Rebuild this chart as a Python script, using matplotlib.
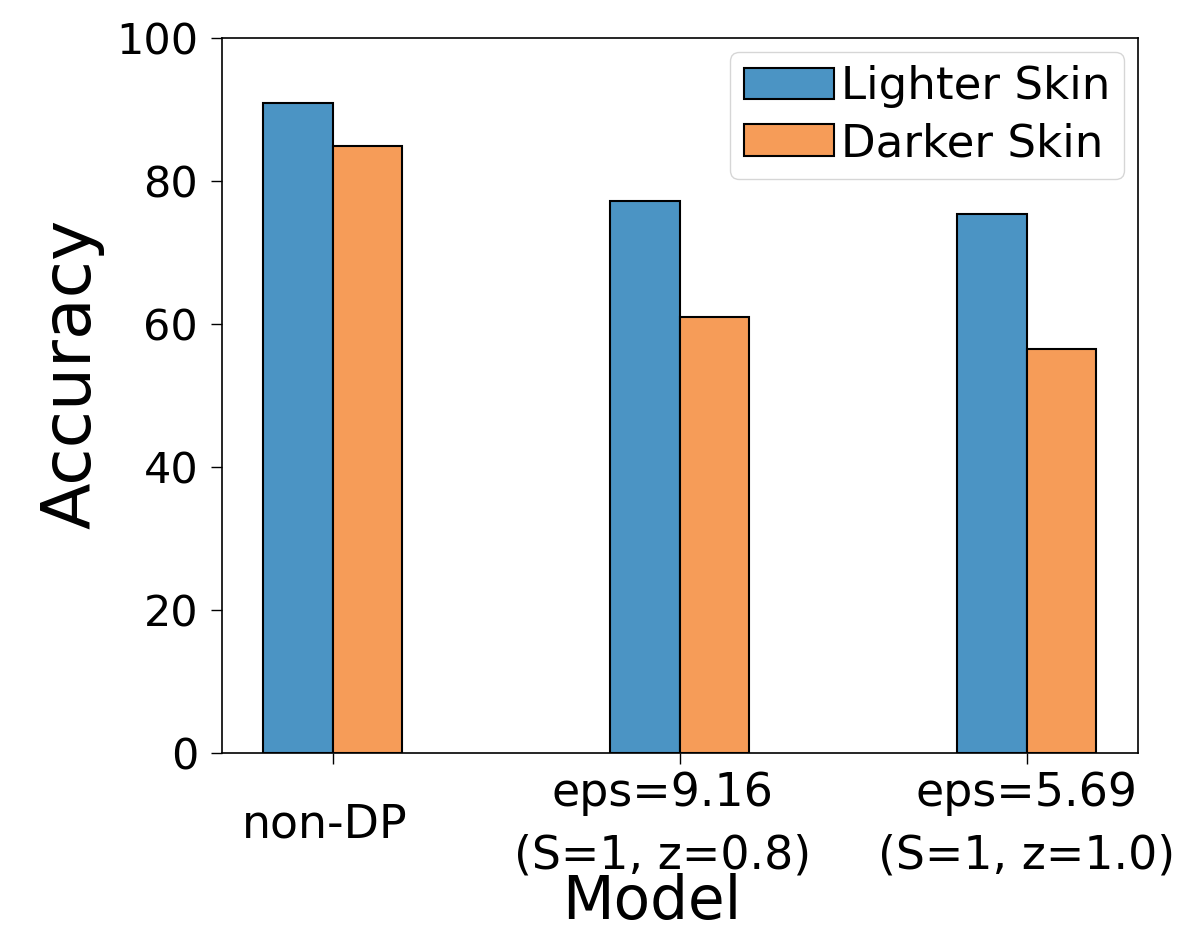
import numpy as np
from matplotlib import pyplot as plt
from matplotlib.transforms import ScaledTranslation

models = ['non-DP', 'eps=9.16\n(S=1, z=0.8)', 'eps=5.69\n(S=1, z=1.0)']
lighter_skin = [91.0, 77.2, 75.4]
darker_skin = [85.0, 61.0, 56.5]
yticks = [0, 20, 40, 60, 80, 100]

fig = plt.figure(figsize=(11.8, 9.36), dpi=100)
ax = fig.add_axes([0.188, 0.1955, 0.776, 0.7635])

x = np.arange(len(models))
width = 0.2
ax.bar(x - width / 2, lighter_skin, width, color='#4b94c4', edgecolor='black',
       linewidth=1.5, label='Lighter Skin')
ax.bar(x + width / 2, darker_skin, width, color='#f69c58', edgecolor='black',
       linewidth=1.5, label='Darker Skin')

ax.set_ylim(0, 100)
ax.set_yticks(yticks)
ax.set_xticks(x)
ax.set_xticklabels(models, va='center', linespacing=1.5)
ax.tick_params(axis='both', length=8, width=1)
ax.tick_params(axis='x', labelsize=33, pad=44)
ax.tick_params(axis='y', labelsize=31, pad=9)

# the first two labels sit a little left of their ticks in the original
shifts = [-0.08, -0.17, 0.0]
for lab, dx in zip(ax.get_xticklabels(), shifts):
    lab.set_transform(lab.get_transform() + ScaledTranslation(dx, 0, fig.dpi_scale_trans))

ax.set_ylabel('Accuracy', fontsize=49)
ax.yaxis.set_label_coords(-0.128, 0.53)
ax.set_xlabel('Model', fontsize=43)
ax.xaxis.set_label_coords(0.47, -0.168)

ax.legend(loc='upper right', fontsize=32.5, handletextpad=0.15,
          borderaxespad=0.3, labelspacing=0.3, borderpad=0.3)

for s in ax.spines.values():
    s.set_linewidth(1.2)

fig.savefig('out.png', dpi=100)
